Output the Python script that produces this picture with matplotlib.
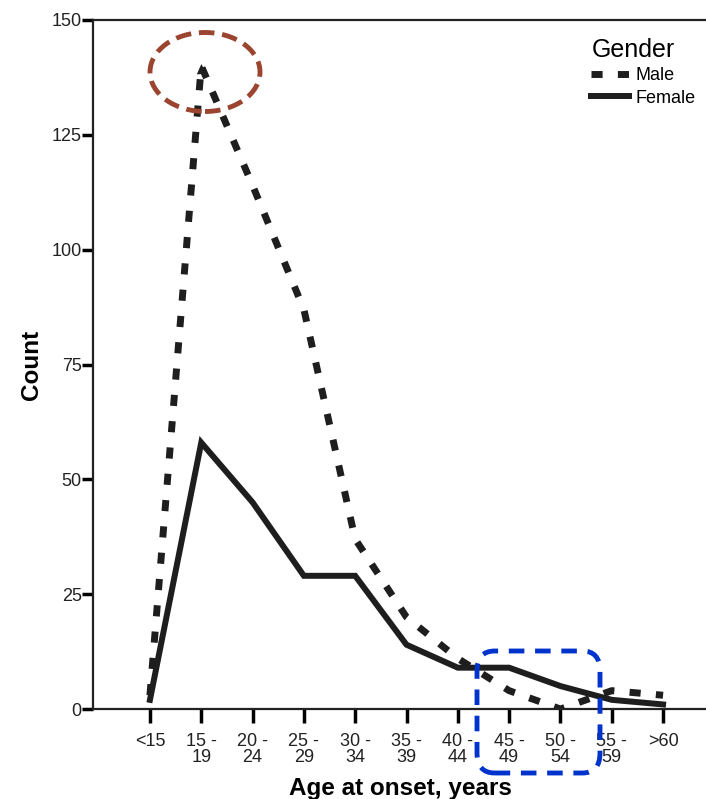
import matplotlib.pyplot as plt
from matplotlib.patches import Ellipse, FancyBboxPatch

plt.rcParams['font.family'] = ['Liberation Sans', 'DejaVu Sans']

# Age groups and counts
age_groups = ["<15", "15 -\n19", "20 -\n24", "25 -\n29", "30 -\n34", "35 -\n39",
              "40 -\n44", "45 -\n49", "50 -\n54", "55 -\n59", ">60"]
male = [3, 140, 114, 87, 37, 20, 11, 4, 0, 4, 3]
female = [2, 58, 45, 29, 29, 14, 9, 9, 5, 2, 1]
y_ticks = [0, 25, 50, 75, 100, 125, 150]

x = list(range(len(age_groups)))

fig = plt.figure(figsize=(7.06, 7.99), dpi=100)
ax = fig.add_axes([0.1317, 0.1126, 0.87, 0.8624])

ax.plot(x, male, color="#1e1e1e", lw=5, dashes=(1.6, 2.2),
        solid_capstyle="butt", label="Male")
ax.plot(x, female, color="#1e1e1e", lw=4.3, solid_joinstyle="miter",
        label="Female")

# small arrow head at the male peak
ax.annotate("", xy=(1, 141), xytext=(1.02, 136),
            arrowprops=dict(arrowstyle="-|>", color="#1e1e1e",
                            mutation_scale=18, lw=0))

ax.set_xlim(-1.11, 10.86)
ax.set_ylim(0, 150)
ax.set_xticks(x)
ax.set_xticklabels(age_groups, fontsize=13, color="#222222", linespacing=0.95)
ax.set_yticks(y_ticks)
ax.set_yticklabels([str(v) for v in y_ticks], fontsize=13, color="#222222")
ax.tick_params(axis="x", direction="out", length=10, width=2.5, pad=7)
ax.tick_params(axis="y", direction="out", length=8, width=2.5, pad=0)

for side in ["left", "bottom", "top"]:
    ax.spines[side].set_linewidth(1.6)
    ax.spines[side].set_color("#222222")
ax.spines["right"].set_visible(False)

ax.set_ylabel("Count", fontsize=17.5, fontweight="bold", labelpad=6)
ax.set_xlabel("Age at onset, years", fontsize=17.5, fontweight="bold", labelpad=8)

leg = ax.legend(title="Gender", loc="upper right", bbox_to_anchor=(0.996, 0.987),
                frameon=False, fontsize=13, title_fontsize=18,
                handlelength=2.1, handletextpad=0.35, labelspacing=0.3,
                borderpad=0)
leg._legend_box.align = "left"

# highlight marks drawn on the figure
ell = Ellipse((205 / 706, 1 - 72 / 799), 110 / 706, 79 / 799,
              transform=fig.transFigure, fill=False, edgecolor="#9b4430",
              lw=3.5, ls=(0, (3.2, 1.6)), clip_on=False)
fig.add_artist(ell)
box = FancyBboxPatch((477 / 706, 1 - 773 / 799), 123 / 706, 122 / 799,
                     boxstyle="round,pad=0,rounding_size=0.025",
                     transform=fig.transFigure, fill=False,
                     edgecolor="#0033cc", lw=3.5, ls=(0, (3.2, 2.2)),
                     clip_on=False)
fig.add_artist(box)

plt.savefig("out.png", dpi=100)
